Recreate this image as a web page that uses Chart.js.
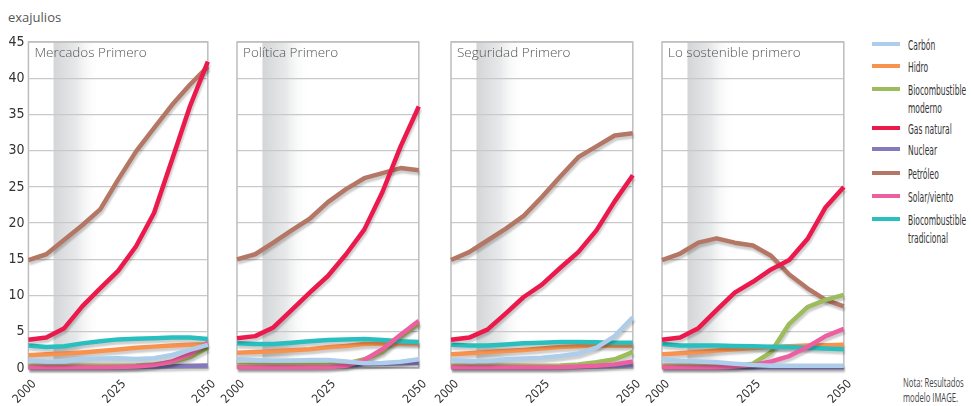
<!DOCTYPE html>
<html>
<head>
<meta charset="utf-8">
<script src="https://cdn.jsdelivr.net/npm/chart.js@4.4.1/dist/chart.umd.min.js"></script>
<style>
  body { margin: 0; background: #fff; width: 972px; height: 406px; position: relative; overflow: hidden; font-family: 'Open Sans', sans-serif; }
  canvas { position: absolute; top: 0; }
  #unit { position: absolute; left: 8px; top: 8px; font-size: 13px; color: #555; }
  #legend { position: absolute; left: 872px; top: 0; font-family: 'DejaVu Sans Condensed', 'DejaVu Sans', sans-serif; font-size: 14px; color: #333; }
  .item { position: absolute; left: 0; width: 100px; }
  .swatch { position: absolute; left: 0; width: 28px; height: 4px; }
  .label { position: absolute; left: 36px; line-height: 18px; white-space: nowrap; transform: scaleX(0.6); transform-origin: 0 0; }
  #note { position: absolute; left: 903px; top: 375px; font-size: 12px; line-height: 15px; color: #444; white-space: nowrap; transform: scaleX(0.64); transform-origin: 0 0; }
</style>
</head>
<body>
<div id="unit">exajulios</div>
<div id="legend"></div>
<div id="note">Nota: Resultados<br>modelo IMAGE.</div>

<script>
// years on the x axis, one point every 5 years
const years = [2000, 2005, 2010, 2015, 2020, 2025, 2030, 2035, 2040, 2045, 2050];
const panelTitles = ['Mercados Primero', 'Política Primero', 'Seguridad Primero', 'Lo sostenible primero'];
const shadeYears = [2007, 2020];

// one row per panel (exajulios)
const carbon = [
  [1.1, 0.9, 0.9, 1.2, 1.3, 1.35, 1.25, 1.35, 1.8, 2.5, 3.2],
  [1.25, 1.1, 1.0, 1.05, 1.1, 1.1, 0.9, 0.65, 0.7, 0.85, 1.2],
  [1.1, 0.95, 0.95, 1.2, 1.3, 1.4, 1.65, 2.0, 2.8, 4.4, 7.0],
  [1.2, 1.0, 0.9, 0.8, 0.6, 0.4, 0.3, 0.3, 0.3, 0.3, 0.3]
];
const hidro = [
  [1.75, 1.9, 2.0, 2.15, 2.35, 2.55, 2.8, 2.95, 3.1, 3.2, 3.25],
  [2.1, 2.2, 2.3, 2.45, 2.6, 2.85, 3.05, 3.3, 3.35, 3.4, 3.4],
  [1.9, 2.05, 2.2, 2.35, 2.5, 2.7, 2.9, 3.0, 3.1, 3.1, 3.1],
  [1.9, 2.05, 2.2, 2.4, 2.6, 2.75, 2.9, 3.0, 3.1, 3.15, 3.2]
];
const bioModerno = [
  [0.3, 0.3, 0.3, 0.3, 0.3, 0.3, 0.35, 0.5, 0.8, 1.5, 2.8],
  [0.4, 0.4, 0.4, 0.4, 0.4, 0.45, 0.6, 1.2, 2.2, 4.3, 6.2],
  [0.3, 0.3, 0.3, 0.3, 0.3, 0.3, 0.35, 0.5, 0.8, 1.2, 2.2],
  [0.3, 0.3, 0.3, 0.3, 0.3, 0.6, 2.2, 6.1, 8.4, 9.4, 10.1]
];
const gasNatural = [
  [3.9, 4.2, 5.5, 8.5, 11.0, 13.4, 16.8, 21.4, 28.7, 36.1, 42.3],
  [4.1, 4.4, 5.6, 8.0, 10.4, 12.7, 15.7, 19.1, 24.3, 30.6, 36.1],
  [3.9, 4.2, 5.3, 7.5, 9.8, 11.5, 13.8, 16.0, 19.0, 23.0, 26.6],
  [3.9, 4.2, 5.5, 8.0, 10.4, 11.9, 13.6, 14.9, 17.8, 22.2, 25.0]
];
const nuclear = [
  [0.1, 0.1, 0.1, 0.1, 0.1, 0.1, 0.15, 0.2, 0.25, 0.3, 0.35],
  [0.2, 0.2, 0.2, 0.2, 0.2, 0.25, 0.35, 0.5, 0.6, 0.65, 0.7],
  [0.1, 0.1, 0.1, 0.1, 0.1, 0.1, 0.1, 0.15, 0.2, 0.3, 0.4],
  [0.1, 0.1, 0.1, 0.1, 0.1, 0.1, 0.1, 0.1, 0.1, 0.1, 0.1]
];
const petroleo = [
  [14.9, 15.7, 17.7, 19.7, 21.9, 26.0, 29.9, 33.1, 36.3, 39.1, 41.6],
  [15.0, 15.7, 17.3, 19.0, 20.6, 22.9, 24.7, 26.2, 26.9, 27.6, 27.3],
  [14.9, 16.0, 17.6, 19.2, 21.0, 23.6, 26.4, 29.1, 30.6, 32.1, 32.4],
  [14.9, 15.8, 17.3, 17.9, 17.3, 16.9, 15.5, 12.9, 11.0, 9.4, 8.5]
];
const solarViento = [
  [0.1, 0.1, 0.1, 0.1, 0.1, 0.15, 0.2, 0.4, 0.9, 1.9, 3.5],
  [0.1, 0.1, 0.1, 0.1, 0.1, 0.1, 0.3, 1.1, 2.6, 4.6, 6.5],
  [0.1, 0.1, 0.1, 0.1, 0.1, 0.1, 0.1, 0.2, 0.3, 0.5, 0.9],
  [0.1, 0.1, 0.1, 0.1, 0.2, 0.4, 0.9, 1.65, 2.9, 4.4, 5.4]
];
const bioTradicional = [
  [3.1, 2.9, 3.0, 3.4, 3.7, 3.95, 4.05, 4.1, 4.2, 4.2, 4.0],
  [3.4, 3.3, 3.3, 3.5, 3.7, 3.85, 3.95, 4.0, 3.85, 3.7, 3.6],
  [3.2, 3.1, 3.1, 3.25, 3.4, 3.5, 3.6, 3.6, 3.55, 3.5, 3.5],
  [3.3, 3.1, 3.1, 3.1, 3.05, 3.0, 2.95, 2.9, 2.8, 2.7, 2.6]
];

const seriesNames = ['Carbón', 'Hidro', 'Biocombustible moderno', 'Gas natural', 'Nuclear', 'Petróleo', 'Solar/viento', 'Biocombustible tradicional'];
const seriesData = [carbon, hidro, bioModerno, gasNatural, nuclear, petroleo, solarViento, bioTradicional];
const seriesColors = ['#aecdeb', '#f7934f', '#9dbc5c', '#ec1a4c', '#8379bb', '#b47765', '#ec5fa1', '#28bfbe'];
const seriesOrder = [1, 4, 5, 0, 7, 6, 2, 3];
const legendLines = [['Carbón'], ['Hidro'], ['Biocombustible', 'moderno'], ['Gas natural'], ['Nuclear'], ['Petróleo'], ['Solar/viento'], ['Biocombustible', 'tradicional']];

const condensed = "'DejaVu Sans Condensed', 'DejaVu Sans', sans-serif";

// plot area left edges of the four panels
const panelLeft = [26, 237, 451, 662];
const plotWidth = 187;
const plotTop = 42;
const axisHeight = 38;

// grey fading band + panel frame + title
const panelDecor = {
  id: 'panelDecor',
  beforeDraw(chart, args, opts) {
    const { ctx, chartArea: a, scales } = chart;
    const x0 = scales.x.getPixelForValue(shadeYears[0]);
    const x1 = scales.x.getPixelForValue(shadeYears[1]);
    const g = ctx.createLinearGradient(x0, 0, x1, 0);
    g.addColorStop(0, '#d4d5d7');
    g.addColorStop(0.5, '#e8e9ea');
    g.addColorStop(1, 'rgba(255,255,255,0)');
    ctx.save();
    ctx.fillStyle = g;
    ctx.fillRect(x0, a.top, x1 - x0, a.bottom - a.top);
    ctx.restore();
  },
  beforeDatasetsDraw(chart, args, opts) {
    const { ctx, chartArea: a } = chart;
    ctx.save();
    ctx.strokeStyle = '#bdbdbd';
    ctx.lineWidth = 1.5;
    ctx.strokeRect(a.left, a.top, a.right - a.left, a.bottom - a.top);
    ctx.fillStyle = '#555';
    ctx.font = "300 13.5px 'Open Sans', sans-serif";
    ctx.textBaseline = 'middle';
    ctx.fillText(opts.title, a.left + 6, a.top + 11);
    ctx.restore();
  },
  beforeDatasetDraw(chart) {
    const ctx = chart.ctx;
    ctx.save();
    ctx.shadowColor = 'rgba(0,0,0,0.2)';
    ctx.shadowOffsetX = 1;
    ctx.shadowOffsetY = 3;
    ctx.shadowBlur = 2;
  },
  afterDatasetDraw(chart) {
    chart.ctx.restore();
  }
};

function makePanel(p) {
  const first = p === 0;
  const padLeft = first ? 0 : 30;
  const padRight = 14;
  const canvas = document.createElement('canvas');
  const left = panelLeft[p] - (first ? 26 : padLeft);
  const width = (panelLeft[p] + plotWidth + padRight) - left;
  canvas.style.left = left + 'px';
  canvas.width = width;
  canvas.height = 406;
  canvas.style.width = width + 'px';
  canvas.style.height = '406px';
  document.body.appendChild(canvas);

  const datasets = seriesNames.map((name, i) => ({
    label: name,
    data: years.map((y, k) => ({ x: y, y: seriesData[i][p][k] })),
    borderColor: seriesColors[i],
    backgroundColor: seriesColors[i],
    borderWidth: 4.5,
    pointRadius: 0,
    tension: 0,
    borderJoinStyle: 'round',
    order: seriesOrder[i],
    clip: 6
  }));

  new Chart(canvas, {
    type: 'line',
    data: { datasets },
    plugins: [panelDecor],
    options: {
      responsive: false,
      animation: false,
      events: [],
      layout: { padding: { left: padLeft, right: padRight, top: plotTop, bottom: 0 } },
      plugins: {
        legend: { display: false },
        tooltip: { enabled: false },
        panelDecor: { title: panelTitles[p] }
      },
      scales: {
        x: {
          type: 'linear',
          min: 2000,
          max: 2050,
          afterFit: s => { s.height = axisHeight; },
          grid: { display: false, drawTicks: false },
          border: { display: false },
          ticks: {
            stepSize: 25,
            minRotation: 45,
            maxRotation: 45,
            padding: 9,
            labelOffset: 6,
            color: '#333',
            font: { family: condensed, size: 12 },
            callback: v => String(v)
          }
        },
        y: {
          min: 0,
          max: 45,
          afterFit: s => { s.width = first ? 26 : 0; },
          grid: { color: '#c9c9c9', lineWidth: 1.3, drawTicks: false },
          border: { display: false },
          ticks: {
            display: first,
            stepSize: 5,
            padding: 4,
            color: '#333',
            font: { family: condensed, size: 14 }
          }
        }
      }
    }
  });
}

for (let p = 0; p < 4; p++) makePanel(p);

// legend
const legendTops = [36, 58, 81, 120, 141, 165, 188, 211];
const legend = document.getElementById('legend');
seriesNames.forEach((name, i) => {
  const item = document.createElement('div');
  item.className = 'item';
  item.style.top = legendTops[i] + 'px';
  item.innerHTML = '<div class="swatch" style="top:6px;background:' + seriesColors[i] + '"></div>' +
    '<div class="label">' + legendLines[i].join('<br>') + '</div>';
  legend.appendChild(item);
});
</script>
</body>
</html>
